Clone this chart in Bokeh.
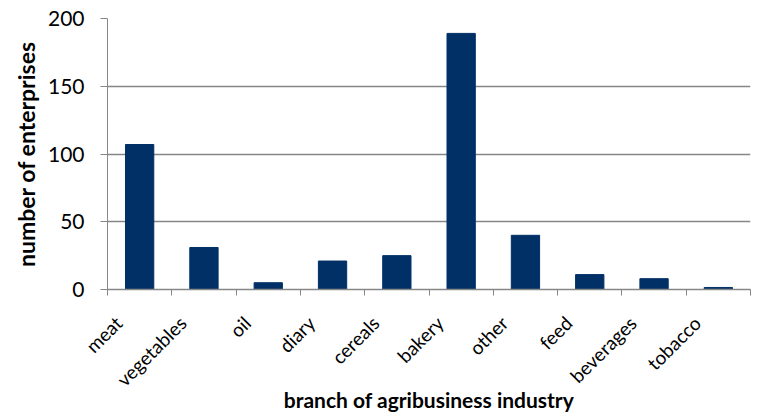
from bokeh.plotting import figure
from bokeh.models import FixedTicker, ColumnDataSource, Range1d
from bokeh.embed import file_html
from bokeh.resources import INLINE
import math

categories = ["meat", "vegetables", "oil", "diary", "cereals", "bakery",
              "other", "feed", "beverages", "tobacco"]
values = [107, 31, 5, 21, 25, 189, 40, 11, 8, 1.5]
y_ticks = [0, 50, 100, 150, 200]

centers = [i + 0.5 for i in range(len(categories))]
bounds = list(range(len(categories) + 1))
# rotated labels end slightly left of each category centre
label_pos = [c - 0.33 for c in centers]

src = ColumnDataSource(dict(x=centers, top=values))

p = figure(width=757, height=414, output_backend="svg", toolbar_location=None,
           x_range=Range1d(0, len(categories)), y_range=Range1d(0, 200),
           min_border_left=107, min_border_right=7, min_border_top=18,
           min_border_bottom=124)
p.outline_line_color = None
p.background_fill_color = "white"

p.vbar(x="x", top="top", width=0.44, source=src, color="#003066")

font = "Lato"
grey = "#878787"

xa = p.xaxis[0]
xa.ticker = FixedTicker(ticks=label_pos, minor_ticks=bounds)
xa.major_label_overrides = {c: n for c, n in zip(label_pos, categories)}
xa.major_tick_out = 0
xa.major_tick_in = 0
xa.minor_tick_out = 6
xa.minor_tick_in = 0
xa.minor_tick_line_color = grey
xa.axis_line_color = grey
xa.axis_line_width = 1.5
xa.major_label_orientation = math.pi / 4
xa.major_label_text_font = font
xa.major_label_text_font_size = "19px"
xa.major_label_text_color = "black"
xa.major_label_standoff = 24
xa.axis_label = "branch of agribusiness industry"
xa.axis_label_text_font = font
xa.axis_label_text_font_style = "bold"
xa.axis_label_text_font_size = "21px"
xa.axis_label_text_color = "black"
xa.axis_label_standoff = -15

ya = p.yaxis[0]
ya.ticker = FixedTicker(ticks=y_ticks)
ya.minor_tick_line_color = None
ya.major_tick_out = 7
ya.major_tick_in = 0
ya.major_tick_line_color = grey
ya.axis_line_color = grey
ya.major_label_text_font = font
ya.major_label_text_font_size = "21px"
ya.major_label_text_color = "black"
ya.major_label_standoff = 16
ya.axis_label = "number of enterprises"
ya.axis_label_text_font = font
ya.axis_label_text_font_style = "bold"
ya.axis_label_text_font_size = "23px"
ya.axis_label_text_color = "black"
ya.axis_label_standoff = 5

p.xgrid.grid_line_color = None
p.ygrid.ticker = FixedTicker(ticks=y_ticks)
p.ygrid.grid_line_color = grey
p.ygrid.grid_line_width = 1.5

open("out.html", "w").write(file_html(p, INLINE))
